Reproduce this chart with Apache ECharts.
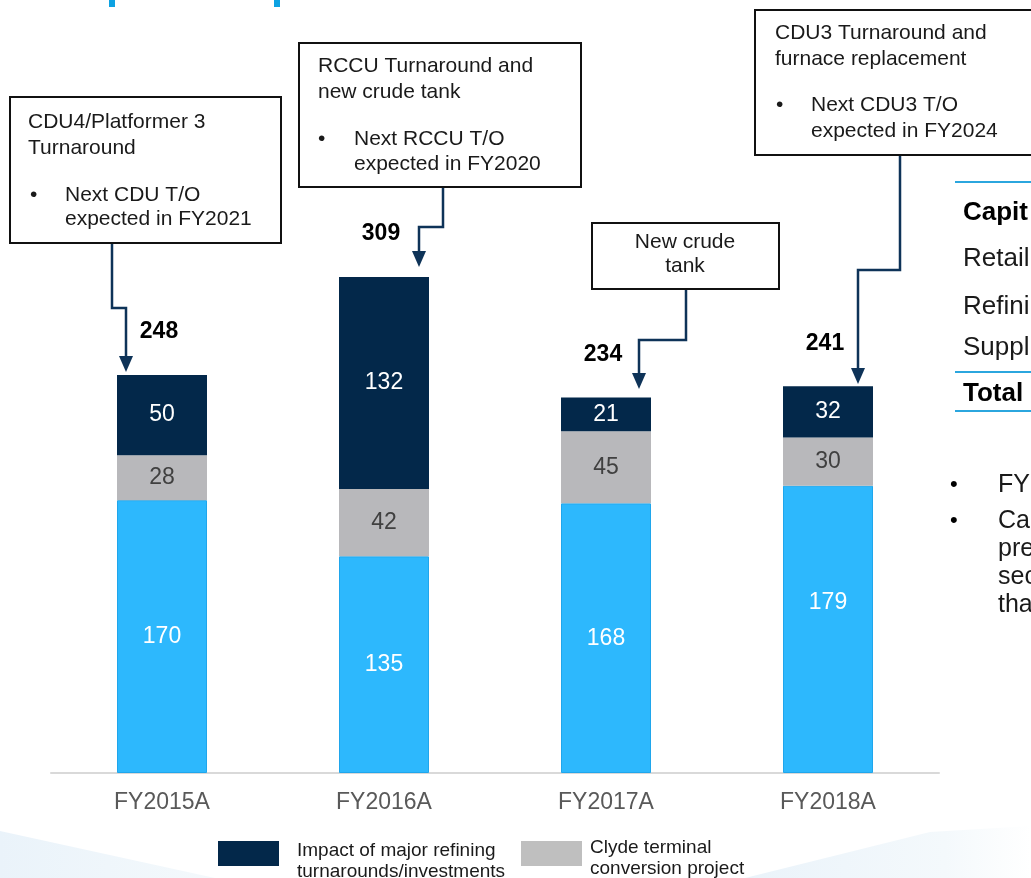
<!DOCTYPE html>
<html>
<head>
<meta charset="utf-8">
<script src="https://cdn.jsdelivr.net/npm/echarts@6/dist/echarts.min.js"></script>
<style>
  html, body { margin: 0; padding: 0; background: #ffffff; }
  #chart { width: 1031px; height: 878px; }
</style>
</head>
<body>
<div id="chart"></div>
<script>
// ---- Capex by year (A$m) ----
const categories = ['FY2015A', 'FY2016A', 'FY2017A', 'FY2018A'];
const baseCapex = [170, 135, 168, 179];
const clydeProject = [28, 42, 45, 30];
const majorTurnarounds = [50, 132, 21, 32];
const totals = categories.map((_, i) => baseCapex[i] + clydeProject[i] + majorTurnarounds[i]);

const nameBase = 'Other capex';
const nameClyde = 'Clyde terminal\nconversion project';
const nameMajor = 'Impact of major refining\nturnarounds/investments';

// ---- Callout notes, one per year ----
const calloutTitles = [
  ['CDU4/Platformer 3', 'Turnaround'],
  ['RCCU Turnaround and', 'new crude tank'],
  ['New crude', 'tank'],
  ['CDU3 Turnaround and', 'furnace replacement']
];
const calloutBullets = [
  ['Next CDU T/O', 'expected in FY2021'],
  ['Next RCCU T/O', 'expected in FY2020'],
  null,
  ['Next CDU3 T/O', 'expected in FY2024']
];

// ---- Side panel text ----
const tableHeader = 'Capit';
const tableRows = ['Retail', 'Refini', 'Suppl'];
const tableTotal = 'Total';
const sideBullets = [['FY'], ['Ca', 'pre', 'sec', 'tha']];

// ---- Styling ----
const FONT = '"Liberation Sans", Arial, Helvetica, sans-serif';
const NAVY = '#03284A';
const SKY = '#2DB8FD';
const GREY = '#B8B8BB';
const ARROW = '#0E3358';
const RULE = '#2BA6DE';

// vertical nudge of the value label inside the base segment, per bar
const baseLabelShift = [0, 0, 0, -27];

// Callout layout: box [x, y, w, h], text anchors, connector route
const calloutLayout = [
  { box: [10, 97, 271, 146], titleX: 28, titleY: [122, 148], bulletX: 30, textX: 65, bulletY: [195, 219], stemX: 112, elbowY: 308, tipDx: -36, gap: 3 },
  { box: [299, 43, 282, 144], titleX: 318, titleY: [66, 92], bulletX: 318, textX: 354, bulletY: [139, 164], stemX: 443, elbowY: 227, tipDx: 35, gap: 10 },
  { box: [592, 223, 187, 66], centered: true, titleX: 685, titleY: [242, 266], stemX: 686, elbowY: 340, tipDx: 33, gap: 8 },
  { box: [755, 10, 300, 145], titleX: 775, titleY: [33, 59], bulletX: 776, textX: 811, bulletY: [105, 131], stemX: 900, elbowY: 270, tipDx: 30, gap: 2 }
];

const chart = echarts.init(document.getElementById('chart'), null, { renderer: 'canvas' });

const segLabel = (color) => ({
  show: true,
  position: 'inside',
  color: color,
  fontSize: 23,
  fontFamily: FONT
});

chart.setOption({
  animation: false,
  backgroundColor: '#ffffff',
  grid: { left: 51, right: 92, top: 131, bottom: 105, containLabel: false },
  xAxis: {
    type: 'category',
    data: categories,
    axisTick: { show: false },
    axisLine: { lineStyle: { color: '#D9D9D9', width: 2 } },
    axisLabel: { fontSize: 23, color: '#595959', margin: 18, fontFamily: FONT }
  },
  yAxis: { type: 'value', min: 0, max: 400, show: false },
  series: [
    {
      name: nameBase, type: 'bar', stack: 'capex', barWidth: 90,
      data: baseCapex.map((v, i) => ({ value: v, label: { offset: [0, baseLabelShift[i]] } })),
      itemStyle: { color: SKY, borderColor: '#1FA6EC', borderWidth: 1 },
      label: segLabel('#FFFFFF')
    },
    {
      name: nameClyde, type: 'bar', stack: 'capex', barWidth: 90,
      data: clydeProject,
      itemStyle: { color: GREY },
      label: segLabel('#404040')
    },
    {
      name: nameMajor, type: 'bar', stack: 'capex', barWidth: 90,
      data: majorTurnarounds,
      itemStyle: { color: NAVY },
      label: segLabel('#FFFFFF')
    },
    {
      name: 'Total', type: 'scatter',
      data: totals,
      symbolSize: 1,
      itemStyle: { color: 'rgba(0,0,0,0)', opacity: 1 },
      silent: true,
      z: 5,
      label: {
        show: true, position: 'top', distance: 31, offset: [-3, 0],
        fontSize: 23, fontWeight: 'bold', color: '#000000', fontFamily: FONT
      }
    }
  ]
});

// ---- Annotation layer: callouts, connectors, legend, side panel, page decoration ----
const g = [];
const txt = (x, y, text, opts = {}) => ({
  type: 'text', z: 20,
  style: Object.assign({
    x, y, text,
    fontSize: 21, fontFamily: FONT, fill: '#1A1A1A',
    align: 'left', verticalAlign: 'middle'
  }, opts)
});

// soft background swooshes at the foot of the page
g.push({
  type: 'polygon', z: -5, silent: true,
  shape: { points: [[0, 831], [215, 878], [0, 878]] },
  style: { fill: new echarts.graphic.LinearGradient(0, 0, 1, 0, [
    { offset: 0, color: '#EAF3FA' }, { offset: 1, color: '#F4F9FC' }]) }
});
g.push({
  type: 'polygon', z: -5, silent: true,
  shape: { points: [[745, 878], [930, 832], [1031, 826], [1031, 878]] },
  style: { fill: new echarts.graphic.LinearGradient(0, 0, 1, 0, [
    { offset: 0, color: '#EAF3FA' }, { offset: 0.7, color: '#F4F9FC' }, { offset: 1, color: '#FFFFFF' }]) }
});

// title glyph tails at the top edge
g.push({ type: 'rect', z: 20, shape: { x: 109, y: 0, width: 6, height: 7 }, style: { fill: '#0DA2E2' } });
g.push({ type: 'rect', z: 20, shape: { x: 274, y: 0, width: 6, height: 7 }, style: { fill: '#0DA2E2' } });

calloutLayout.forEach((c, i) => {
  const [bx, by, bw, bh] = c.box;
  g.push({
    type: 'rect', z: 15,
    shape: { x: bx, y: by, width: bw, height: bh },
    style: { fill: '#FFFFFF', stroke: '#111111', lineWidth: 2 }
  });
  calloutTitles[i].forEach((line, k) => {
    g.push(c.centered
      ? txt(c.titleX, c.titleY[k], line, { align: 'center' })
      : txt(c.titleX, c.titleY[k], line));
  });
  if (calloutBullets[i]) {
    g.push(txt(c.bulletX, c.bulletY[0], '\u2022'));
    calloutBullets[i].forEach((line, k) => g.push(txt(c.textX, c.bulletY[k], line)));
  }
  // connector from the box down to the top of the stacked bar
  const tip = chart.convertToPixel({ seriesIndex: 3 }, [i, totals[i]]);
  const tx = Math.round(tip[0]) + c.tipDx;
  const ty = Math.round(tip[1]) - c.gap;
  g.push({
    type: 'polyline', z: 14,
    shape: { points: [[c.stemX, by + bh], [c.stemX, c.elbowY], [tx, c.elbowY], [tx, ty - 14]] },
    style: { stroke: ARROW, lineWidth: 2.5, fill: null }
  });
  g.push({
    type: 'polygon', z: 14,
    shape: { points: [[tx - 7, ty - 16], [tx + 7, ty - 16], [tx, ty]] },
    style: { fill: ARROW }
  });
});

// legend (two keyed series)
const legendItems = [
  { name: nameMajor, color: NAVY, swatchX: 218, textX: 297, textY: 851 },
  { name: nameClyde, color: '#BFBFBF', swatchX: 521, textX: 590, textY: 848 }
];
legendItems.forEach(it => {
  g.push({ type: 'rect', z: 20, shape: { x: it.swatchX, y: 841, width: 61, height: 25 },
    style: { fill: it.color } });
  it.name.split('\n').forEach((line, k) =>
    g.push(txt(it.textX, it.textY + k * 21, line, { fontSize: 19, fill: '#1A1A1A' })));
});

// side panel table
[182, 372, 411].forEach(y => g.push({
  type: 'line', z: 20,
  shape: { x1: 955, y1: y, x2: 1031, y2: y },
  style: { stroke: RULE, lineWidth: 2 }
}));
g.push(txt(963, 213, tableHeader, { fontSize: 26, fontWeight: 'bold', fill: '#000' }));
[259, 307, 348].forEach((y, k) => g.push(txt(963, y, tableRows[k], { fontSize: 26, fill: '#1A1A1A' })));
g.push(txt(963, 394, tableTotal, { fontSize: 26, fontWeight: 'bold', fill: '#000' }));

// side panel bullets
const sideY = [[485], [521, 549, 577, 605]];
sideBullets.forEach((lines, b) => {
  g.push(txt(950, sideY[b][0], '\u2022', { fontSize: 22, fill: '#000' }));
  lines.forEach((line, k) => g.push(txt(998, sideY[b][k], line, { fontSize: 25, fill: '#1A1A1A' })));
});

chart.setOption({ graphic: { elements: g } });
</script>
</body>
</html>
